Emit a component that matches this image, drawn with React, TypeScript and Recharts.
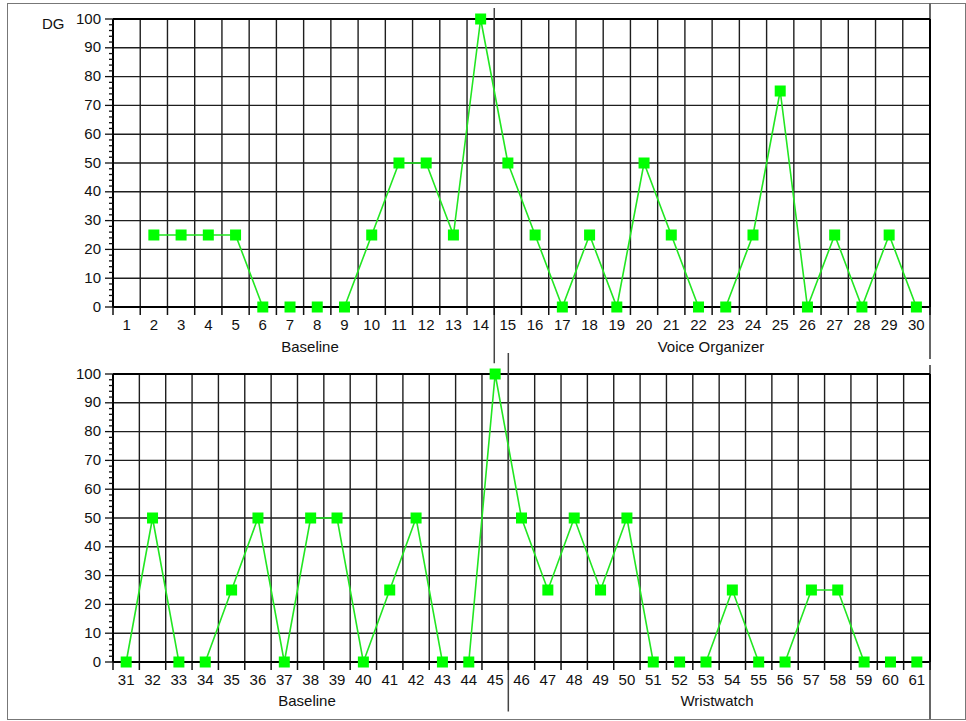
import React from 'react';
import { LineChart, Line, XAxis, YAxis, CartesianGrid, ReferenceLine } from 'recharts';

// sessions and DG scores (percent)
const topSessions = [1, 2, 3, 4, 5, 6, 7, 8, 9, 10, 11, 12, 13, 14, 15, 16, 17, 18, 19, 20, 21, 22, 23, 24, 25, 26, 27, 28, 29, 30];
const topDG = [null, 25, 25, 25, 25, 0, 0, 0, 0, 25, 50, 50, 25, 100, 50, 25, 0, 25, 0, 50, 25, 0, 0, 25, 75, 0, 25, 0, 25, 0];

const bottomSessions = [31, 32, 33, 34, 35, 36, 37, 38, 39, 40, 41, 42, 43, 44, 45, 46, 47, 48, 49, 50, 51, 52, 53, 54, 55, 56, 57, 58, 59, 60, 61];
const bottomDG = [0, 50, 0, 0, 25, 50, 0, 50, 50, 0, 25, 50, 0, 0, 100, 50, 25, 50, 25, 50, 0, 0, 0, 25, 0, 0, 25, 25, 0, 0, 0];

const yMajor = [0, 10, 20, 30, 40, 50, 60, 70, 80, 90, 100];
const yTicks = Array.from({ length: 51 }, (_, i) => i * 2); // minor ticks every 2

// last session of the first phase in each panel
const topPhaseEnd = 14;
const bottomPhaseEnd = 45;
const topPhases = ['Baseline', 'Voice Organizer'];
const bottomPhases = ['Baseline', 'Wristwatch'];

const FONT = '"Liberation Sans", Arial, Helvetica, sans-serif';
const GREEN = '#00ff00';
const LINE_GREEN = '#22e622';
const GRID = '#1e1e1e';

const W = 966;
const MARGIN_L = 53;
const YAXIS_W = 60;
const MARGIN_R = 36;
const PLOT_W = W - MARGIN_L - YAXIS_W - MARGIN_R;

const toRows = (xs: number[], ys: (number | null)[]) => xs.map((s, i) => ({ s, dg: ys[i] }));
const edgesOf = (xs: number[]) => [...xs.map((s) => s - 0.5), xs[xs.length - 1] + 0.5];

const makeXTick = (band: number, lastEdge: number) => (props: any) => {
  const { x, y, payload } = props;
  const v = payload.value;
  return (
    <g>
      <line x1={x} x2={x} y1={y} y2={y + 8} stroke="#111" strokeWidth={1.5} />
      {v < lastEdge && (
        <text x={x + band / 2} y={y + 22.5} textAnchor="middle" fontSize={15} fontFamily={FONT} fill="#111">
          {v + 0.5}
        </text>
      )}
    </g>
  );
};

const YTick = (props: any) => {
  const { x, y, payload } = props;
  const major = payload.value % 10 === 0;
  return (
    <g>
      <line x1={x - (major ? 8 : 4)} x2={x} y1={y} y2={y} stroke="#111" strokeWidth={1.3} />
      {major && (
        <text x={x - 12} y={y + 4.5} textAnchor="end" fontSize={15} fontFamily={FONT} fill="#111">
          {payload.value}
        </text>
      )}
    </g>
  );
};

const SquareDot = (props: any) => {
  const { cx, cy, index } = props;
  if (cx == null || cy == null || props.value == null) return <g key={`d-${index}`} />;
  return <rect key={`d-${index}`} x={cx - 5.5} y={cy - 5.5} width={11} height={11} fill={GREEN} />;
};

function Panel({ sessions, values, phaseEnd, top, height, marginTop, axisH, divTop, divBottom }: any) {
  const rows = toRows(sessions, values);
  const edges = edgesOf(sessions);
  const lo = edges[0];
  const hi = edges[edges.length - 1];
  const band = PLOT_W / sessions.length;
  return (
    <div style={{ position: 'absolute', left: 0, top }}>
      <LineChart width={W} height={height} data={rows} margin={{ top: marginTop, right: MARGIN_R, left: MARGIN_L, bottom: 0 }}>
        <CartesianGrid horizontal={false} stroke={GRID} strokeWidth={1.4} />
        <XAxis
          dataKey="s"
          type="number"
          domain={[lo, hi]}
          ticks={edges}
          interval={0}
          height={axisH}
          tickSize={0}
          tickMargin={0}
          tickLine={false}
          axisLine={{ stroke: '#000', strokeWidth: 2.2 }}
          tick={makeXTick(band, hi)}
        />
        <YAxis
          type="number"
          domain={[0, 100]}
          ticks={yTicks}
          interval={0}
          width={YAXIS_W}
          tickSize={0}
          tickMargin={0}
          tickLine={false}
          axisLine={{ stroke: '#000', strokeWidth: 2 }}
          tick={YTick}
        />
        {yMajor.slice(1, -1).map((v) => (
          <ReferenceLine key={v} y={v} stroke={GRID} strokeWidth={1.4} />
        ))}
        <ReferenceLine y={100} stroke="#000" strokeWidth={2} />
        <ReferenceLine x={hi} stroke="#000" strokeWidth={2} />
        <ReferenceLine
          segment={[{ x: phaseEnd + 0.5, y: divTop }, { x: phaseEnd + 0.5, y: divBottom }]}
          ifOverflow="visible"
          stroke="#444"
          strokeWidth={1.5}
        />
        <Line
          type="linear"
          dataKey="dg"
          stroke={LINE_GREEN}
          strokeWidth={1.6}
          dot={SquareDot}
          activeDot={false}
          isAnimationActive={false}
        />
      </LineChart>
    </div>
  );
}

const label = (text: string, cx: number, baseline: number) => (
  <div
    key={text + cx}
    style={{
      position: 'absolute',
      left: cx - 100,
      width: 200,
      top: baseline - 14,
      textAlign: 'center',
      fontSize: 15,
      lineHeight: '17px',
      color: '#111',
      fontFamily: FONT,
    }}
  >
    {text}
  </div>
);

export default function App() {
  return (
    <div style={{ position: 'absolute', left: 0, top: 0, width: W, height: 721, background: '#fff', fontFamily: FONT }}>
      <div style={{ position: 'absolute', left: 7, top: 3, width: 957, height: 715, border: '1px solid #777' }} />
      <div style={{ position: 'absolute', left: 929, top: 3, width: 2, height: 356, background: '#666' }} />
      <div style={{ position: 'absolute', left: 929, top: 365, width: 2, height: 354, background: '#666' }} />

      <Panel sessions={topSessions} values={topDG} phaseEnd={topPhaseEnd} top={0} height={366} marginTop={19} axisH={59} divTop={103.8} divBottom={-19.5} />
      <Panel sessions={bottomSessions} values={bottomDG} phaseEnd={bottomPhaseEnd} top={345} height={376} marginTop={29} axisH={59} divTop={107.3} divBottom={-17.2} />

      <div style={{ position: 'absolute', left: 42, top: 15, fontSize: 15, lineHeight: '17px', color: '#111', fontFamily: FONT }}>DG</div>
      {label(topPhases[0], 310, 352)}
      {label(topPhases[1], 711, 352)}
      {label(bottomPhases[0], 307, 706)}
      {label(bottomPhases[1], 717, 706)}
    </div>
  );
}
